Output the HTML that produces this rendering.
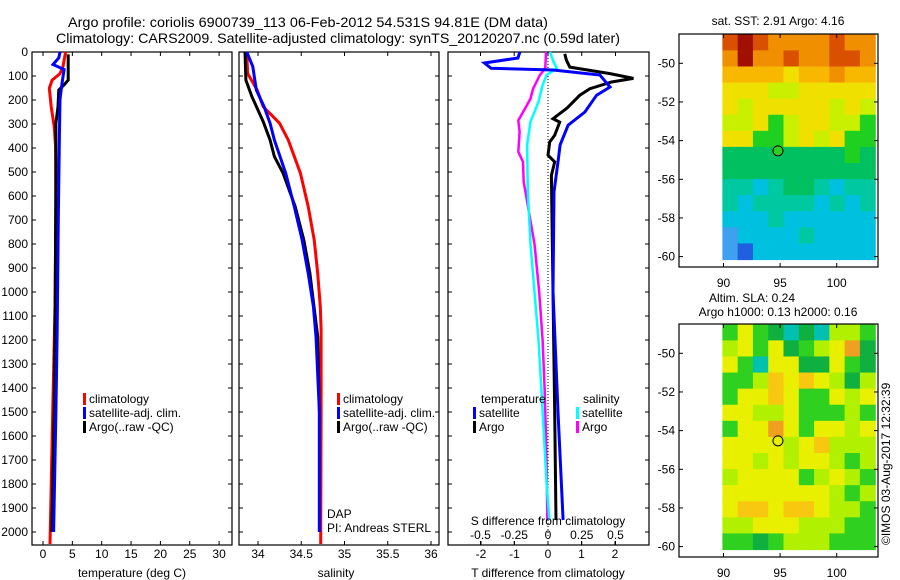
<!DOCTYPE html>
<html><head><meta charset="utf-8"><style>
html,body{margin:0;padding:0;background:#fff;}
svg{display:block;font-family:"Liberation Sans",sans-serif;}
text{fill:#000;}
</style></head><body>
<svg id="fig" width="900" height="580" viewBox="0 0 900 580" xmlns="http://www.w3.org/2000/svg">
<text x="308" y="27" font-size="14" text-anchor="middle" textLength="480" lengthAdjust="spacingAndGlyphs">Argo profile: coriolis 6900739_113 06-Feb-2012 54.531S 94.81E (DM data)</text>
<text x="338" y="43" font-size="14" text-anchor="middle" textLength="564" lengthAdjust="spacingAndGlyphs">Climatology: CARS2009. Satellite-adjusted climatology: synTS_20120207.nc (0.59d later)</text>
<g id="g1"></g>
<g id="g2"></g>
<g id="g3"></g>
<g id="g4"></g>
<g id="g5"></g>
<text transform="translate(890,545) rotate(-90)" font-size="12">©IMOS 03-Aug-2017 12:32:39</text>
</svg>
<script>
// ---- data ----
const tDepthClim = [0,60,90,117,151,228,311,394,644,1061,1500,2050];
const tClim = [3.85,3.4,2.9,1.55,1.07,1.4,1.9,2.15,2.2,2.05,1.65,1.2];
const tDepthSat = [0,24,52,73,128,197,350,700,1186,1500,2000];
const tSat = [2.9,2.7,1.7,3.6,3.25,2.9,2.8,2.6,2.4,2.2,1.8];
const tDepthArgo = [10,117,137,158,228,297,505,1000,1500,2000];
const tArgo = [4.3,4.3,3.6,2.7,2.55,2.2,2.2,2.1,1.9,1.5];
const sDepthClim = [0,89,158,228,297,367,505,644,783,922,1061,1158,1500,2050];
const sClim = [33.87,33.88,33.99,34.06,34.25,34.35,34.49,34.58,34.65,34.69,34.72,34.73,34.73,34.725];
const sDepthSat = [0,61,158,228,297,367,505,644,783,922,1061,1186,1500,2000];
const sSat = [33.87,33.94,33.98,34.07,34.14,34.19,34.32,34.42,34.51,34.58,34.64,34.67,34.71,34.71];
const sDepthArgo = [0,117,186,242,290,367,436,505,644,783,922,1186,1500,2000];
const sArgo = [33.85,33.86,33.93,34.0,34.06,34.14,34.19,34.29,34.43,34.53,34.6,34.69,34.71,34.71];
const dtDepthSat = [0,25,46,68,75,96,146,180,250,305,387,458,583,1000,1500,1950];
const dtSat = [-0.84,-0.9,-1.9,-1.7,0.15,1.55,1.85,1.45,1.1,0.6,0.36,0.3,0.18,0.15,0.3,0.45];
const dtDepthArgo = [8,34,63,90,110,125,153,180,222,236,278,292,347,375,430,458,514,1000,1500,1950];
const dtArgo = [0.5,0.55,0.65,1.85,2.55,1.9,1.25,0.95,0.65,0.55,0.15,0.35,0.2,0.05,0.0,0.2,0.1,0.15,0.2,0.24];
const dsDepthSat = [0,40,68,96,138,208,290,387,583,800,1000,1200,1400,1600,1800,1950];
const dsSat = [0.015,0.04,0.065,-0.01,-0.04,-0.07,-0.13,-0.155,-0.15,-0.13,-0.1,-0.07,-0.05,-0.03,-0.01,0.01];
const dsDepthArgo = [0,68,96,153,194,236,285,333,416,458,541,800,1000,1200,1400,1600,1800,1950];
const dsArgo = [-0.015,-0.02,-0.06,-0.11,-0.13,-0.17,-0.22,-0.21,-0.22,-0.185,-0.18,-0.1,-0.065,-0.04,-0.025,-0.015,-0.008,-0.005];
const depthTicks = [0,100,200,300,400,500,600,700,800,900,1000,1100,1200,1300,1400,1500,1600,1700,1800,1900,2000];
const tempTicks = [0,5,10,15,20,25,30];
const salTicks = [34,34.5,35,35.5,36];
const dtTicks = [-2,-1,0,1,2];
const dsTicks = [-0.5,-0.25,0,0.25,0.5];
const dsTickLabels = ["-0.5","-0.25","0","0.25","0.5"];
const latTicks = [-50,-52,-54,-56,-58,-60];
const lonTicks = [90,95,100];
const sstGrid = [
[1,0,1,2,2,2,2,1,2,2],[2,0,2,2,1,2,2,1,1,2],[3,3,3,3,4,3,3,2,3,3],[4,4,4,5,5,4,4,4,4,4],
[4,5,4,4,4,4,4,5,4,5],[5,5,4,6,5,4,4,5,5,6],[4,4,6,6,5,4,5,4,6,6],[7,7,7,7,7,7,7,7,6,7],
[7,7,7,7,7,7,7,7,7,7],[8,8,9,8,7,7,8,9,8,8],[8,9,8,8,8,8,9,8,9,8],[9,9,9,8,9,9,9,9,9,9],
[10,9,9,9,9,8,9,9,9,9],[10,11,9,9,9,9,9,9,9,9]];
const slaGrid = [
[4,2,4,5,6,5,6,3,3,4],[3,2,4,2,5,4,3,2,0,5],[2,4,6,2,2,5,5,2,4,5],[4,4,3,1,2,1,2,3,5,3],
[4,2,2,1,2,4,4,2,3,2],[2,2,3,3,2,4,4,4,3,4],[4,2,2,0,2,4,2,2,3,2],[2,2,2,2,3,2,1,3,3,3],
[2,2,3,2,3,2,2,3,4,3],[3,2,2,2,2,4,3,2,3,4],[2,2,2,2,2,2,2,3,4,3],[2,1,1,2,1,1,2,3,3,4],
[3,3,2,2,2,3,3,3,4,4],[4,4,5,4,3,3,3,4,4,4]];
const floatLon = 94.81, floatLat = -54.53;

const NS="http://www.w3.org/2000/svg";
function mk(parent,tag,attrs,txt){const e=document.createElementNS(NS,tag);for(const k in attrs)e.setAttribute(k,attrs[k]);if(txt!==undefined)e.textContent=txt;parent.appendChild(e);return e;}
const yD = d => 52 + 0.24*d;

function frame(g,x0,x1,y0,y1,name){
  const r=mk(g,'rect',{x:x0,y:y0,width:x1-x0,height:y1-y0,fill:'none',stroke:'#000','stroke-width':1.2});
  
  
}
function depthAxis(g,x0,x1,labels){
  depthTicks.forEach(d=>{
    const y=yD(d);
    mk(g,'line',{x1:x0,y1:y,x2:x0+4,y2:y,stroke:'#000'});
    mk(g,'line',{x1:x1,y1:y,x2:x1-4,y2:y,stroke:'#000'});
    if(labels){const t=mk(g,'text',{x:x0-4,y:y+4,'font-size':12,'text-anchor':'end'},String(d));
      
      }
  });
}
function xAxis(g,ticks,labs,fx,y0,y1,ly){
  ticks.forEach((v,i)=>{const x=fx(v);
    mk(g,'line',{x1:x,y1:y1,x2:x,y2:y1-4,stroke:'#000'});
    mk(g,'line',{x1:x,y1:y0,x2:x,y2:y0+4,stroke:'#000'});
    const t=mk(g,'text',{x:x,y:ly,'font-size':12,'text-anchor':'middle'},labs?labs[i]:String(v));
    
    
  });
}
function series(g,vals,depths,fx,color,w,name){
  const pts=vals.map((v,i)=>fx(v).toFixed(1)+','+yD(depths[i]).toFixed(1)).join(' ');
  const p=mk(g,'polyline',{points:pts,fill:'none',stroke:color,'stroke-width':w,'stroke-linejoin':'miter'});
  
  
}
function legend(g,x,y,items){
  items.forEach((it,i)=>{
    mk(g,'rect',{x:x,y:y+i*14-6,width:3,height:12,fill:it[1]});
    const t=mk(g,'text',{x:x+6,y:y+i*14+4,'font-size':12},it[0]);
    
    
  });
}

// Panel 1 temperature
const g1=document.getElementById('g1');
const fT = v => 43 + 5.87*v;
frame(g1,32,232,52,545,'temperature-axes');
depthAxis(g1,32,232,true);
xAxis(g1,tempTicks,null,fT,52,545,558);
series(g1,tClim,tDepthClim,fT,'#ff0000',3,'temperature-climatology-line');
series(g1,tArgo,tDepthArgo,fT,'#000000',3,'temperature-argo-line');
series(g1,tSat,tDepthSat,fT,'#0000ff',3,'temperature-satellite-line');
legend(g1,83,399,[['climatology','#f00'],['satellite-adj. clim.','#00f'],['Argo(..raw -QC)','#000']]);
let t=mk(g1,'text',{x:132,y:577,'font-size':12,'text-anchor':'middle'},'temperature (deg C)');
 

// Panel 2 salinity
const g2=document.getElementById('g2');
const fS = v => 258 + 86.5*(v-34);
frame(g2,239,439,52,545,'salinity-axes');
depthAxis(g2,239,439,false);
xAxis(g2,salTicks,null,fS,52,545,558);
series(g2,sClim,sDepthClim,fS,'#ff0000',3,'salinity-climatology-line');
series(g2,sArgo,sDepthArgo,fS,'#000000',3,'salinity-argo-line');
series(g2,sSat,sDepthSat,fS,'#0000ff',3,'salinity-satellite-line');
legend(g2,337,399,[['climatology','#f00'],['satellite-adj. clim.','#00f'],['Argo(..raw -QC)','#000']]);
t=mk(g2,'text',{x:327,y:518,'font-size':12},'DAP');  
t=mk(g2,'text',{x:327,y:532,'font-size':12},'PI: Andreas STERL');  
t=mk(g2,'text',{x:336,y:577,'font-size':12,'text-anchor':'middle'},'salinity');  

// Panel 3 differences
const g3=document.getElementById('g3');
const fDT = v => 548 + 33.5*v;
const fDS = v => 548 + 135*v;
frame(g3,448,649,52,545,'difference-axes');
depthAxis(g3,448,649,false);
mk(g3,'line',{x1:548,y1:52,x2:548,y2:545,stroke:'#000','stroke-dasharray':'1,2'});
series(g3,dsArgo,dsDepthArgo,fDS,'#ff00ff',2.5,'salinity-argo-diff-line');
series(g3,dsSat,dsDepthSat,fDS,'#00ffff',2.5,'salinity-satellite-diff-line');
series(g3,dtArgo,dtDepthArgo,fDT,'#000000',3,'temperature-argo-diff-line');
series(g3,dtSat,dtDepthSat,fDT,'#0000ff',3,'temperature-satellite-diff-line');
dtTicks.forEach(v=>{const x=fDT(v);mk(g3,'line',{x1:x,y1:545,x2:x,y2:541,stroke:'#000'});
  t=mk(g3,'text',{x:x,y:558,'font-size':12,'text-anchor':'middle'},String(v));  });
dsTicks.forEach((v,i)=>{const x=fDS(v);mk(g3,'line',{x1:x,y1:545,x2:x,y2:541,stroke:'#000'});mk(g3,'line',{x1:x,y1:52,x2:x,y2:56,stroke:'#000'});
  t=mk(g3,'text',{x:x,y:539,'font-size':12,'text-anchor':'middle'},dsTickLabels[i]);  });
t=mk(g3,'text',{x:548,y:525,'font-size':12,'text-anchor':'middle'},'S difference from climatology');  
t=mk(g3,'text',{x:548,y:577,'font-size':12,'text-anchor':'middle'},'T difference from climatology');  
t=mk(g3,'text',{x:481,y:403,'font-size':12},'temperature');  
t=mk(g3,'text',{x:583,y:403,'font-size':12},'salinity');  
legend(g3,473,413,[['satellite','#00f'],['Argo','#000']]);
legend(g3,576,413,[['satellite','#0ff'],['Argo','#f0f']]);

// Maps
const sstPal=['#a01000','#d85000','#f09000','#f8b800','#f0e000','#c8f000','#20d020','#00c060','#00c8a0','#00c0e0','#40a0f0','#2060e0'];
const slaPal=['#f0a020','#f8c810','#e8f000','#b0f000','#30d020','#10b040','#00c0b0'];
function map(g,top,grid,pal,lat50y,title,markFill,name){
  const fx = lon => 723.5 + 11.32*(lon-90);
  const fy = lat => lat50y + 19.33*(-50-lat);
  const x0=fx(89.9), x1=fx(103.4), y0=fy(-48.5), y1=fy(-60.15);
  const cw=(x1-x0)/grid[0].length, ch=(y1-y0)/grid.length;
  grid.forEach((row,r)=>row.forEach((v,c)=>{
    const cell=mk(g,'rect',{x:(x0+c*cw).toFixed(2),y:(y0+r*ch).toFixed(2),width:(cw+0.6).toFixed(2),height:(ch+0.6).toFixed(2),fill:pal[v]});
    
    
  }));
  frame(g,679,878,top,top+233,name+'-axes');
  latTicks.forEach(l=>{const y=fy(l);mk(g,'line',{x1:679,y1:y,x2:683,y2:y,stroke:'#000'});mk(g,'line',{x1:878,y1:y,x2:874,y2:y,stroke:'#000'});
    const tt=mk(g,'text',{x:675,y:y+4,'font-size':12,'text-anchor':'end'},String(l));  });
  lonTicks.forEach(l=>{const x=fx(l);mk(g,'line',{x1:x,y1:top+233,x2:x,y2:top+229,stroke:'#000'});mk(g,'line',{x1:x,y1:top,x2:x,y2:top+4,stroke:'#000'});
    const tt=mk(g,'text',{x:x,y:top+253,'font-size':12,'text-anchor':'middle'},String(l));  });
  const c=mk(g,'circle',{cx:fx(floatLon),cy:fy(floatLat),r:5,fill:markFill,stroke:'#000','stroke-width':1});
  
  
  title.forEach((s,i)=>{const tt=mk(g,'text',{x:s[1],y:s[2],'font-size':12,'text-anchor':'middle'},s[0]);  });
}
map(document.getElementById('g4'),34,sstGrid,sstPal,63.3,[['sat. SST: 2.91  Argo: 4.16',778,25]],'#30d020','sst-map');
map(document.getElementById('g5'),324,slaGrid,slaPal,353.3,[['Altim. SLA: 0.24',752,302],['Argo h1000: 0.13 h2000: 0.16',778,316]],'#e8f000','sla-map');
</script>
</body></html>
